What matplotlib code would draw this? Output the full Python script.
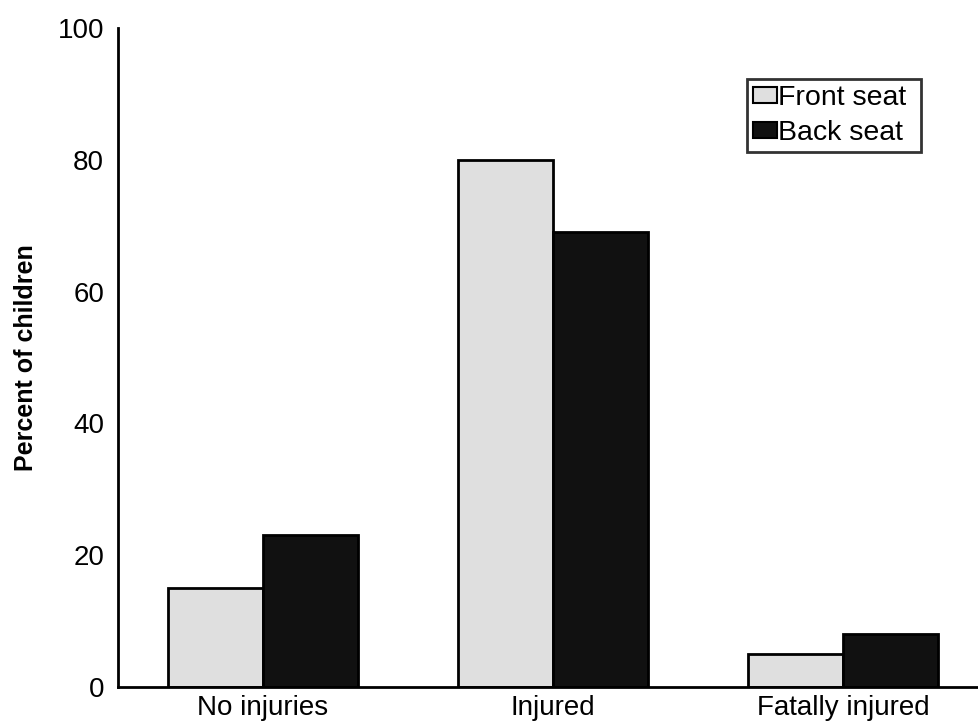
import numpy as np
import matplotlib.pyplot as plt

plt.rcParams['font.family'] = ['Liberation Sans', 'DejaVu Sans']

categories = ["No injuries", "Injured", "Fatally injured"]
front_seat = [15, 80, 5]
back_seat = [23, 69, 8]

fig = plt.figure(figsize=(9.79, 7.22), dpi=100)
ax = fig.add_axes([118 / 979, 35 / 722, 1 - 118 / 979, 659 / 722])

x = np.arange(len(categories))
w = 0.327
ax.bar(x - w / 2, front_seat, w, color="#dfdfdf", edgecolor="black", linewidth=2, label="Front seat ")
ax.bar(x + w / 2, back_seat, w, color="#111111", edgecolor="black", linewidth=2, label="Back seat")

ax.set_xlim(-0.5, 2.469)
ax.set_ylim(0, 100)
ax.set_yticks([0, 20, 40, 60, 80, 100])
ax.set_xticks(x)
ax.set_xticklabels(categories)
ax.tick_params(axis="both", length=0, labelsize=20)
ax.tick_params(axis="y", pad=10)
ax.tick_params(axis="x", pad=6)
ax.set_ylabel("Percent of children", fontsize=18, fontweight="bold", labelpad=14)

for s in ["top", "right"]:
    ax.spines[s].set_visible(False)
for s in ["left", "bottom"]:
    ax.spines[s].set_linewidth(2)

leg = ax.legend(loc="upper left", bbox_to_anchor=(0.7305, 0.9226), fontsize=20.5,
                frameon=True, fancybox=False, handlelength=0.83, handleheight=0.5,
                handletextpad=0.05, borderpad=0.22, labelspacing=0.3, borderaxespad=0)
leg.get_frame().set_edgecolor("black")
leg.get_frame().set_linewidth(2)
for h in leg.legend_handles:
    h.set_linewidth(1.5)

fig.savefig("out.png", dpi=100)
